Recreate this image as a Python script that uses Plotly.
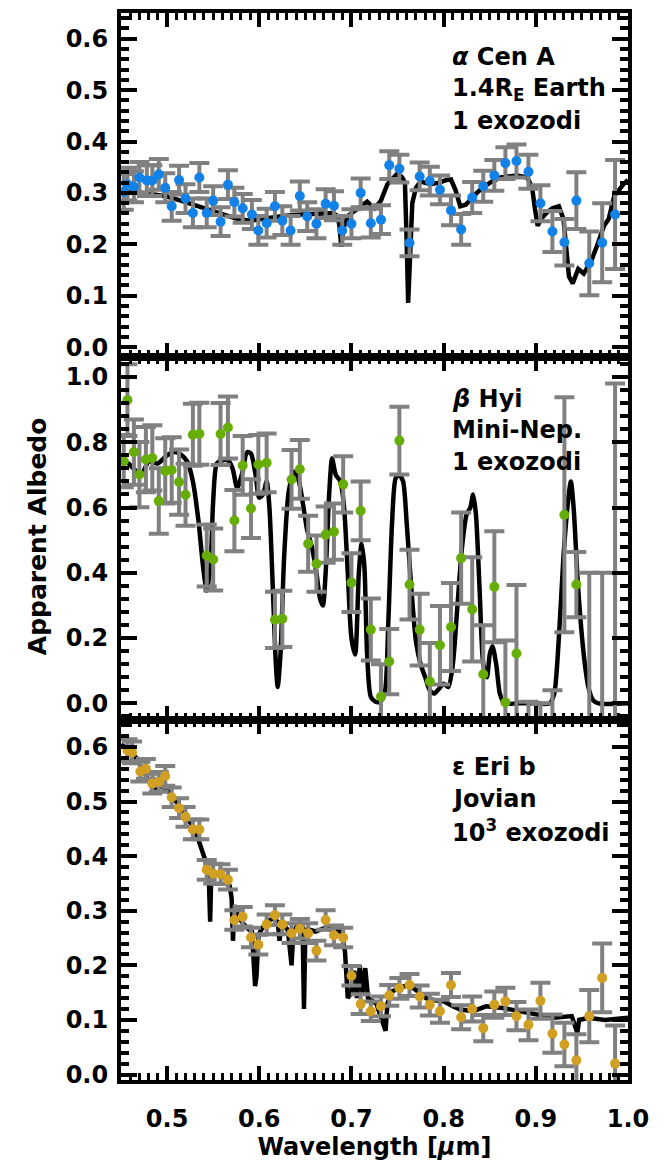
import plotly.graph_objects as go
from plotly.subplots import make_subplots

# ---------------- alpha Cen A : 1.4 R_E Earth, 1 exozodi ----------------
cen_model_wl = [0.450, 0.460, 0.475, 0.490, 0.500, 0.515, 0.530, 0.545, 0.560, 0.575,
                0.590, 0.605, 0.626, 0.645, 0.663, 0.680, 0.685, 0.687, 0.689, 0.691,
                0.696, 0.705, 0.717, 0.725, 0.732, 0.739, 0.745, 0.750, 0.755, 0.758,
                0.760, 0.7615, 0.763, 0.766, 0.770, 0.775, 0.786, 0.795, 0.803, 0.808,
                0.813, 0.818, 0.824, 0.829, 0.836, 0.843, 0.852, 0.862, 0.872, 0.880,
                0.891, 0.896, 0.899, 0.902, 0.906, 0.912, 0.918, 0.925, 0.930, 0.933,
                0.936, 0.940, 0.946, 0.952, 0.960, 0.967, 0.974, 0.979, 0.985, 0.995, 1.000]
cen_model_alb = [0.300, 0.302, 0.300, 0.297, 0.293, 0.285, 0.276, 0.268, 0.258, 0.250,
                 0.246, 0.250, 0.255, 0.258, 0.259, 0.261, 0.255, 0.236, 0.195, 0.230,
                 0.255, 0.268, 0.283, 0.270, 0.285, 0.317, 0.330, 0.338, 0.330, 0.320,
                 0.200, 0.086, 0.150, 0.280, 0.310, 0.322, 0.317, 0.320, 0.325, 0.326,
                 0.305, 0.274, 0.277, 0.287, 0.300, 0.311, 0.322, 0.330, 0.333, 0.334,
                 0.330, 0.310, 0.270, 0.236, 0.250, 0.262, 0.270, 0.274, 0.249, 0.190,
                 0.137, 0.124, 0.152, 0.143, 0.167, 0.200, 0.236, 0.249, 0.293, 0.317, 0.325]
cen_wl = [0.453, 0.457, 0.464, 0.470, 0.478, 0.484, 0.491, 0.498, 0.505, 0.513,
          0.520, 0.528, 0.535, 0.543, 0.550, 0.558, 0.566, 0.573, 0.582, 0.592,
          0.599, 0.608, 0.617, 0.625, 0.634, 0.644, 0.652, 0.662, 0.672, 0.681,
          0.690, 0.700, 0.710, 0.721, 0.732, 0.741, 0.752, 0.763, 0.774, 0.785,
          0.796, 0.808, 0.819, 0.831, 0.843, 0.855, 0.867, 0.879, 0.892, 0.905,
          0.918, 0.931, 0.944, 0.958, 0.972, 0.986]
cen_alb = [0.302, 0.317, 0.312, 0.330, 0.324, 0.324, 0.336, 0.310, 0.274, 0.325,
           0.289, 0.261, 0.330, 0.261, 0.285, 0.244, 0.316, 0.282, 0.270, 0.258,
           0.227, 0.241, 0.274, 0.246, 0.227, 0.294, 0.254, 0.240, 0.279, 0.275,
           0.227, 0.240, 0.300, 0.241, 0.248, 0.354, 0.347, 0.203, 0.332, 0.323,
           0.306, 0.266, 0.229, 0.291, 0.313, 0.334, 0.358, 0.362, 0.341, 0.280,
           0.225, 0.204, 0.285, 0.163, 0.203, 0.258]
cen_err = [0.035, 0.032, 0.030, 0.030, 0.030, 0.030, 0.030, 0.028, 0.028, 0.028,
           0.028, 0.028, 0.028, 0.028, 0.028, 0.028, 0.028, 0.028, 0.028, 0.028,
           0.028, 0.028, 0.028, 0.028, 0.028, 0.028, 0.028, 0.028, 0.028, 0.028,
           0.028, 0.028, 0.028, 0.028, 0.028, 0.027, 0.027, 0.026, 0.027, 0.028,
           0.028, 0.029, 0.030, 0.030, 0.030, 0.030, 0.031, 0.032, 0.033, 0.035,
           0.040, 0.045, 0.055, 0.062, 0.077, 0.106]

# ---------------- beta Hyi : mini-Neptune, 1 exozodi ----------------
hyi_model_wl = [0.450, 0.458, 0.465, 0.472, 0.480, 0.490, 0.500, 0.508, 0.515, 0.522,
                0.528, 0.534, 0.539, 0.543, 0.547, 0.550, 0.554, 0.560, 0.566, 0.571,
                0.576, 0.581, 0.587, 0.591, 0.596, 0.600, 0.604, 0.608, 0.611, 0.615,
                0.618, 0.620, 0.623, 0.627, 0.632, 0.638, 0.643, 0.648, 0.652, 0.657,
                0.662, 0.666, 0.669, 0.672, 0.676, 0.679, 0.683, 0.688, 0.692, 0.696,
                0.700, 0.704, 0.708, 0.711, 0.714, 0.717, 0.721, 0.726, 0.731, 0.736,
                0.740, 0.744, 0.748, 0.752, 0.756, 0.760, 0.765, 0.770, 0.775, 0.780,
                0.785, 0.790, 0.795, 0.800, 0.805, 0.810, 0.815, 0.820, 0.825, 0.829,
                0.832, 0.835, 0.839, 0.843, 0.847, 0.850, 0.853, 0.857, 0.861, 0.866,
                0.880, 0.900, 0.915, 0.920, 0.925, 0.930, 0.935, 0.938, 0.941, 0.946,
                0.952, 0.957, 0.962, 0.968, 1.000]
hyi_model_alb = [0.740, 0.735, 0.715, 0.700, 0.740, 0.735, 0.760, 0.770, 0.762, 0.740,
                 0.680, 0.560, 0.420, 0.345, 0.420, 0.620, 0.735, 0.745, 0.745, 0.720,
                 0.660, 0.700, 0.770, 0.765, 0.700, 0.630, 0.640, 0.680, 0.600, 0.330,
                 0.120, 0.050, 0.150, 0.450, 0.650, 0.710, 0.680, 0.600, 0.530, 0.480,
                 0.400, 0.320, 0.300, 0.400, 0.650, 0.750, 0.700, 0.680, 0.600, 0.400,
                 0.200, 0.150, 0.400, 0.490, 0.420, 0.150, 0.020, 0.005, 0.005, 0.030,
                 0.250, 0.550, 0.690, 0.700, 0.680, 0.550, 0.350, 0.190, 0.120, 0.080,
                 0.040, 0.030, 0.045, 0.060, 0.050, 0.120, 0.300, 0.480, 0.580, 0.600,
                 0.640, 0.580, 0.350, 0.120, 0.080, 0.150, 0.175, 0.120, 0.030, 0.000,
                 0.000, 0.000, 0.000, 0.030, 0.200, 0.450, 0.620, 0.680, 0.600, 0.350,
                 0.150, 0.050, 0.010, 0.000, 0.000]
hyi_wl = [0.453, 0.457, 0.464, 0.470, 0.477, 0.484, 0.491, 0.498, 0.505, 0.513,
          0.520, 0.528, 0.535, 0.543, 0.550, 0.558, 0.566, 0.573, 0.582, 0.591,
          0.599, 0.608, 0.617, 0.625, 0.635, 0.644, 0.653, 0.662, 0.672, 0.681,
          0.691, 0.700, 0.710, 0.721, 0.732, 0.741, 0.752, 0.763, 0.774, 0.785,
          0.796, 0.808, 0.819, 0.831, 0.843, 0.855, 0.867, 0.879, 0.892, 0.905,
          0.918, 0.931, 0.944, 0.958, 0.972, 0.986]
hyi_alb = [0.742, 0.929, 0.770, 0.701, 0.747, 0.752, 0.620, 0.712, 0.715, 0.678,
           0.639, 0.823, 0.826, 0.453, 0.441, 0.825, 0.845, 0.560, 0.729, 0.597,
           0.732, 0.737, 0.256, 0.259, 0.686, 0.717, 0.489, 0.428, 0.517, 0.526,
           0.671, 0.370, 0.590, 0.226, 0.020, 0.128, 0.805, 0.364, 0.226, 0.067,
           0.178, 0.234, 0.445, 0.288, 0.089, 0.357, 0.003, 0.153, -0.120, -0.110,
           -0.090, 0.578, 0.364, -0.200, -0.250, -0.200]
hyi_err = [0.080, 0.110, 0.100, 0.100, 0.100, 0.100, 0.100, 0.100, 0.100, 0.100,
           0.095, 0.095, 0.095, 0.095, 0.095, 0.095, 0.095, 0.094, 0.090, 0.090,
           0.090, 0.090, 0.086, 0.086, 0.090, 0.090, 0.086, 0.086, 0.086, 0.086,
           0.086, 0.090, 0.090, 0.095, 0.100, 0.100, 0.104, 0.107, 0.110, 0.118,
           0.120, 0.135, 0.140, 0.160, 0.150, 0.170, 0.190, 0.210, 0.125, 0.110,
           0.130, 0.360, 0.100, 0.600, 0.650, 1.180]

# ---------------- epsilon Eri b : Jovian, 10^3 exozodi ----------------
eri_model_wl = [0.450, 0.458, 0.467, 0.478, 0.485, 0.492, 0.499, 0.506, 0.513, 0.522,
                0.531, 0.538, 0.543, 0.545, 0.5467, 0.548, 0.555, 0.564, 0.568, 0.570,
                0.5715, 0.573, 0.578, 0.587, 0.592, 0.594, 0.5955, 0.597, 0.599, 0.601,
                0.608, 0.615, 0.620, 0.622, 0.624, 0.631, 0.635, 0.637, 0.642, 0.647,
                0.6485, 0.650, 0.655, 0.661, 0.670, 0.679, 0.689, 0.693, 0.696, 0.700,
                0.703, 0.706, 0.709, 0.712, 0.715, 0.718, 0.721, 0.727, 0.737, 0.739,
                0.744, 0.753, 0.763, 0.772, 0.781, 0.790, 0.800, 0.810, 0.818, 0.832,
                0.846, 0.864, 0.883, 0.901, 0.920, 0.939, 0.943, 0.945, 0.947, 0.957,
                0.975, 1.000]
eri_model_alb = [0.605, 0.595, 0.579, 0.545, 0.522, 0.528, 0.524, 0.508, 0.493, 0.470,
                 0.445, 0.410, 0.385, 0.375, 0.280, 0.372, 0.368, 0.359, 0.345, 0.323,
                 0.245, 0.310, 0.286, 0.268, 0.262, 0.200, 0.162, 0.180, 0.250, 0.262,
                 0.280, 0.286, 0.280, 0.245, 0.278, 0.265, 0.200, 0.262, 0.274, 0.270,
                 0.120, 0.265, 0.265, 0.262, 0.268, 0.265, 0.262, 0.225, 0.140, 0.150,
                 0.190, 0.140, 0.200, 0.150, 0.195, 0.140, 0.137, 0.130, 0.080, 0.130,
                 0.152, 0.160, 0.164, 0.152, 0.140, 0.136, 0.134, 0.125, 0.119, 0.116,
                 0.125, 0.122, 0.116, 0.110, 0.104, 0.107, 0.085, 0.076, 0.100, 0.104,
                 0.100, 0.104]
eri_wl = [0.457, 0.462, 0.471, 0.477, 0.484, 0.491, 0.498, 0.505, 0.513, 0.520,
          0.528, 0.535, 0.543, 0.550, 0.558, 0.566, 0.573, 0.582, 0.591, 0.599,
          0.608, 0.617, 0.625, 0.635, 0.644, 0.653, 0.662, 0.672, 0.681, 0.691,
          0.700, 0.710, 0.721, 0.732, 0.741, 0.752, 0.763, 0.774, 0.785, 0.796,
          0.808, 0.819, 0.831, 0.843, 0.855, 0.867, 0.879, 0.892, 0.905, 0.918,
          0.931, 0.944, 0.958, 0.972, 0.986]
eri_alb = [0.594, 0.590, 0.555, 0.560, 0.533, 0.536, 0.547, 0.508, 0.488, 0.472,
           0.449, 0.449, 0.375, 0.368, 0.367, 0.357, 0.283, 0.289, 0.251, 0.238,
           0.275, 0.292, 0.275, 0.259, 0.267, 0.259, 0.227, 0.283, 0.255, 0.251,
           0.181, 0.129, 0.116, 0.125, 0.145, 0.158, 0.164, 0.143, 0.128, 0.116,
           0.164, 0.105, 0.120, 0.085, 0.128, 0.134, 0.107, 0.091, 0.135, 0.075,
           0.055, 0.026, 0.107, 0.177, 0.020]
eri_err = [0.020, 0.020, 0.018, 0.018, 0.018, 0.018, 0.018, 0.018, 0.018, 0.018,
           0.018, 0.018, 0.018, 0.018, 0.018, 0.018, 0.018, 0.018, 0.018, 0.018,
           0.018, 0.018, 0.018, 0.018, 0.018, 0.018, 0.018, 0.018, 0.018, 0.018,
           0.018, 0.018, 0.018, 0.018, 0.019, 0.019, 0.020, 0.020, 0.020, 0.021,
           0.022, 0.022, 0.023, 0.024, 0.024, 0.025, 0.026, 0.028, 0.033, 0.035,
           0.040, 0.048, 0.048, 0.063, 0.070]

panel_labels = [
    ["<i>α</i> Cen A", "1.4R<sub>E</sub> Earth", "1 exozodi"],
    ["<i>β</i> Hyi", "Mini-Nep.", "1 exozodi"],
    ["ε Eri b", "Jovian", "10<sup>3</sup> exozodi"],
]
x_ticks = [0.5, 0.6, 0.7, 0.8, 0.9, 1.0]

FONT = "DejaVu Sans"
GRAY = "#808080"

panels = [
    (cen_model_wl, cen_model_alb, cen_wl, cen_alb, cen_err, "#1282e8", "linear"),
    (hyi_model_wl, hyi_model_alb, hyi_wl, hyi_alb, hyi_err, "#67ad07", "spline"),
    (eri_model_wl, eri_model_alb, eri_wl, eri_alb, eri_err, "#d1a022", "linear"),
]

fig = make_subplots(rows=3, cols=1, shared_xaxes=True, vertical_spacing=0,
                    row_heights=[346, 364, 362])

for row, (mwl, malb, wl, alb, err, color, shape) in enumerate(panels, start=1):
    fig.add_trace(go.Scatter(
        x=mwl, y=malb, mode="lines",
        line=dict(color="black", width=4.5, shape=shape, smoothing=0.7),
        hoverinfo="skip", showlegend=False), row=row, col=1)
    fig.add_trace(go.Scatter(
        x=wl, y=alb, mode="markers",
        marker=dict(color=color, size=10, line=dict(width=0)),
        error_y=dict(type="data", array=err, color=GRAY, thickness=4, width=10),
        showlegend=False), row=row, col=1)

y_settings = [
    dict(range=[-0.02, 0.65], dtick=0.1, minor=0.02),
    dict(range=[-0.05, 1.06], dtick=0.2, minor=0.04),
    dict(range=[-0.01, 0.65], dtick=0.1, minor=0.02),
]

tick_font = dict(family=FONT, size=24, color="black", weight="bold")

for row, ys in enumerate(y_settings, start=1):
    fig.update_yaxes(
        range=ys["range"], dtick=ys["dtick"], tick0=0, tickformat=".1f",
        showgrid=False, zeroline=False, showline=True, linewidth=4, linecolor="black",
        mirror="ticks", ticks="inside", ticklen=16, tickwidth=4, tickcolor="black",
        minor=dict(dtick=ys["minor"], tick0=0, ticks="inside", ticklen=8,
                   tickwidth=3.5, tickcolor="black", showgrid=False),
        tickfont=tick_font, ticklabelstandoff=4,
        row=row, col=1)
    fig.update_xaxes(
        range=[0.45, 1.0], tickvals=x_ticks, tickformat=".1f",
        showgrid=False, zeroline=False, showline=True, linewidth=4, linecolor="black",
        mirror="ticks", ticks="inside", ticklen=14, tickwidth=4, tickcolor="black",
        minor=dict(dtick=0.01, tick0=0, ticks="inside", ticklen=7,
                   tickwidth=3, tickcolor="black", showgrid=False),
        tickfont=tick_font, ticklabelstandoff=14,
        row=row, col=1)

fig.update_xaxes(
    title=dict(text="Wavelength [<i>μ</i>m]", font=dict(family=FONT, size=24, color="black",
                                                      weight="bold"), standoff=6),
    row=3, col=1)

# y title sits centred on the middle panel
fig.add_annotation(
    text="Apparent Albedo", xref="paper", yref="paper", x=-0.165, y=0.51,
    textangle=-90, showarrow=False, xanchor="center", yanchor="middle",
    font=dict(family=FONT, size=25, color="black", weight="bold"))

# per-panel labels (paper y of each text line)
label_rows = [[0.9585, 0.9287, 0.8987], [0.6385, 0.6095, 0.5795], [0.2935, 0.2635, 0.2335]]
for lines, ys in zip(panel_labels, label_rows):
    for txt, yy in zip(lines, ys):
        fig.add_annotation(
            text=txt, xref="paper", yref="paper", x=0.648, y=yy,
            xanchor="left", yanchor="middle", showarrow=False,
            font=dict(family=FONT, size=24, color="black", weight="bold"))

fig.update_layout(
    width=667, height=1165,
    margin=dict(l=121, r=39, t=9, b=84),
    paper_bgcolor="white", plot_bgcolor="white",
    font=dict(family=FONT, color="black"),
    showlegend=False,
)

fig.write_html("out.html")
